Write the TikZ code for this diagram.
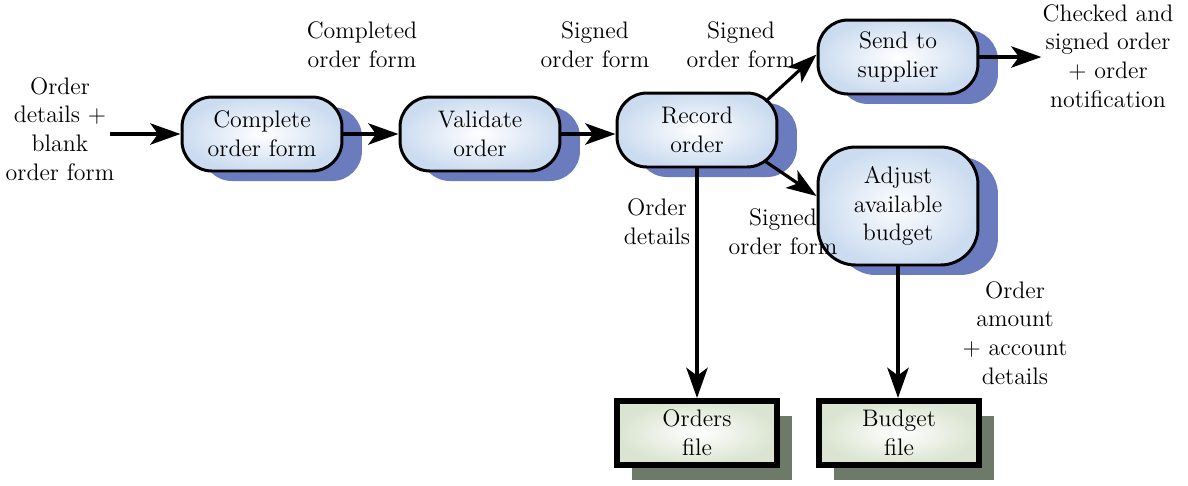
\documentclass[tikz,border=0pt]{standalone}
\usepackage{tikz}
\usetikzlibrary{arrows.meta,shadows}

\definecolor{procblue}{RGB}{204,220,240}
\definecolor{shadeblue}{RGB}{106,124,190}
\definecolor{filegreen}{RGB}{218,228,208}
\definecolor{shadegreen}{RGB}{110,122,105}

\begin{document}
\begin{tikzpicture}[x=0.02cm, y=-0.02cm,
		font=\fontsize{13.6}{16.3}\selectfont,
		proc_style/.style={rectangle, rounded corners=0.6cm, draw=black, line width=1.7pt,
			inner color=white, outer color=procblue, align=center,
			minimum width=3.2cm, minimum height=1.48cm, inner sep=2pt,
			drop shadow={shadow xshift=0.4cm, shadow yshift=-0.2cm, fill=shadeblue, opacity=1}},
		file_style/.style={rectangle, draw=black, line width=3.4pt,
			inner color=white, outer color=filegreen, align=center,
			minimum width=3.2cm, minimum height=1.28cm, inner sep=2pt,
			drop shadow={shadow xshift=0.3cm, shadow yshift=-0.3cm, fill=shadegreen, opacity=1}},
		label_style/.style={align=center, inner sep=0pt},
		edge_style/.style={draw=black, line width=2.8pt, -{Stealth[length=0.6cm, width=0.42cm, inset=0.15cm]}},
		thin_edge/.style={edge_style, line width=1.8pt}]

		\useasboundingbox (0,0) rectangle (1188,485);

		\node[proc_style] (complete) at (262,134) {Complete\\order form};
		\node[proc_style] (validate) at (480,134) {Validate\\order};
		\node[proc_style] (record)   at (697,130) {Record\\order};
		\node[proc_style] (send)     at (898,57)  {Send to\\supplier};
		\node[proc_style, minimum height=2.36cm, rounded corners=0.75cm] (adjust) at (898,206) {Adjust\\available\\budget};
		\node[file_style] (orders) at (697,433) {Orders\\file};
		\node[file_style] (budget) at (899,433) {Budget\\file};

		\node[label_style] (in)      at (60,129)   {Order\\details +\\blank\\order form};
		\node[label_style] (l_comp)  at (362,45)   {Completed\\order form};
		\node[label_style] (l_sig1)  at (595,45)   {Signed\\order form};
		\node[label_style] (l_sig2)  at (741,45)   {Signed\\order form};
		\node[label_style] (out)     at (1108,56)  {Checked and\\signed order\\+ order\\notification};
		\node[label_style] (l_det)   at (657,222)  {Order\\details};
		\node[label_style] (l_sig3)  at (783,232)  {Signed\\order form};
		\node[label_style] (l_amt)   at (1015,333) {Order\\amount\\+ account\\details};

		\draw[edge_style] ([xshift=-0.1cm]in.east |- complete.west) -- (complete.west);
		\draw[edge_style] (complete) -- (validate);
		\draw[edge_style] (validate.east) -- (record.west |- validate.east);
		\draw[thin_edge] ([xshift=-0.26cm, yshift=-0.2cm]record.north east) -- ([yshift=0.05cm]send.west);
		\draw[thin_edge] ([xshift=-0.26cm, yshift=0.14cm]record.south east) -- ([yshift=0.2cm]adjust.west);
		\draw[edge_style] (send.east) -- ++(62,0) coordinate (send_out);
		\draw[edge_style] (record.south) -- (orders.north);
		\draw[edge_style] (adjust.south) -- (budget.north -| adjust.south);

\end{tikzpicture}
\end{document}
